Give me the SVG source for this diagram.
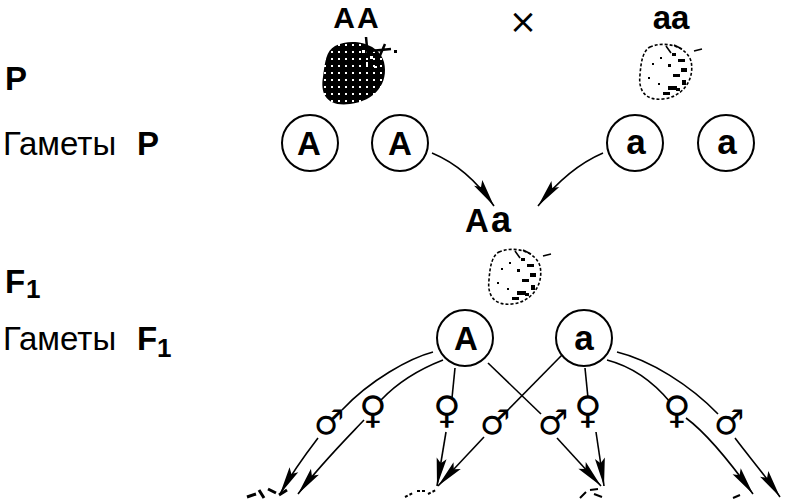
<svg xmlns="http://www.w3.org/2000/svg" width="800" height="500" viewBox="0 0 800 500">
<style>
.lbl{font-family:"Liberation Sans",Arial,sans-serif;font-size:33px;fill:#000}
.b{font-weight:bold}
.sub{font-family:"Liberation Sans",Arial,sans-serif;font-size:26px;font-weight:bold}
.fem{font-family:"DejaVu Sans",sans-serif;font-size:38px;fill:#000;text-anchor:middle}
.mal{font-family:"DejaVu Sans",sans-serif;font-size:34px;fill:#000;text-anchor:middle}
.gam{fill:#fff;stroke:#000;stroke-width:2}
.gt{font-family:"Liberation Sans",Arial,sans-serif;font-weight:bold;font-size:33px;text-anchor:middle}
.ln{fill:none;stroke:#000;stroke-width:1.6}
.arr{fill:none;stroke:#000;stroke-width:1.6;marker-end:url(#ah)}
.dash{fill:#fff;stroke:#000;stroke-width:1.6;stroke-dasharray:3 2}
</style>
<defs>
<marker id="ah" viewBox="-30 -6 32 12" refX="0" refY="0" markerWidth="32" markerHeight="12" orient="auto" markerUnits="userSpaceOnUse">
<path d="M0,0 L-28,-5 L-23,0 L-28,5 Z" fill="#000"/>
</marker>
<pattern id="seeds" width="7" height="7" patternUnits="userSpaceOnUse">
<rect width="7" height="7" fill="#000"/>
<rect x="2" y="2" width="2" height="2" fill="#fff"/>
</pattern>
<g id="lightberry">
<path class="dash" d="M12,4 C25,-2 48,2 53,18 C57,36 45,54 25,56 C8,58 0,48 2,32 C3,18 5,8 12,4 Z"/>
<g fill="#000">
<rect x="34" y="10" width="4" height="3"/><rect x="40" y="16" width="7" height="3"/>
<rect x="30" y="21" width="3" height="3"/><rect x="43" y="25" width="6" height="4"/>
<rect x="35" y="31" width="7" height="3"/><rect x="44" y="37" width="4" height="5"/>
<rect x="30" y="43" width="9" height="4"/><rect x="25" y="49" width="7" height="3"/>
<rect x="38" y="45" width="4" height="3"/><rect x="14" y="20" width="2" height="2"/>
<rect x="10" y="34" width="2" height="2"/><rect x="20" y="40" width="2" height="2"/>
<rect x="22" y="14" width="2" height="2"/>
</g>
<path d="M28,3 L33,10 M36,2 L44,6 M56,8 L64,6" class="ln"/>
</g>
</defs>
<rect width="800" height="500" fill="#fff"/>

<g id="labels">
<text class="lbl b" x="5" y="90">P</text>
<text class="lbl" x="3" y="155">Гаметы<tspan class="b" x="137">P</tspan></text>
<text class="lbl b" x="5" y="293">F</text><text class="sub" x="26" y="298">1</text>
<text class="lbl" x="3" y="350">Гаметы<tspan class="b" x="137">F</tspan></text><text class="sub" x="157" y="357">1</text>
</g>

<g id="parentAA">
<text class="gt" x="357" y="28" style="font-size:30px" letter-spacing="2">AA</text>
<path d="M335,46 C352,37 379,43 384,62 C389,83 375,101 350,104 C327,107 320,94 323,77 C325,62 326,51 335,46 Z" fill="url(#seeds)"/>
<g fill="#fff"><rect x="362" y="50" width="3" height="3"/><rect x="370" y="56" width="3" height="3"/><rect x="366" y="62" width="2" height="3"/><rect x="374" y="66" width="3" height="2"/></g>
<path d="M366,37 L368,58 M370,51 L391,49 M385,44 L378,60" stroke="#000" stroke-width="2.5" fill="none"/>
<rect x="394" y="50" width="3" height="3"/>
</g>
<text id="cross" x="523" y="33" font-family="DejaVu Sans,sans-serif" font-size="34" text-anchor="middle">×</text>
<g id="parentaa">
<text class="gt" x="671" y="29">aa</text>
<use href="#lightberry" x="638" y="43"/>
</g>

<g id="gameteP1"><circle class="gam" cx="310" cy="143" r="28"/><text class="gt" x="309" y="155">A</text></g>
<g id="gameteP2"><circle class="gam" cx="400" cy="143" r="28"/><text class="gt" x="400" y="155">A</text></g>
<g id="gameteP3"><circle class="gam" cx="635" cy="143" r="28"/><text class="gt" x="636" y="154" style="font-size:35px">a</text></g>
<g id="gameteP4"><circle class="gam" cx="726" cy="143" r="28"/><text class="gt" x="727" y="154" style="font-size:35px">a</text></g>

<g id="F1">
<text class="gt" x="489" y="232" text-anchor="start" letter-spacing="2">A<tspan style="font-size:36px">a</tspan></text>
<use href="#lightberry" x="487" y="248"/>
</g>

<g id="gameteF1A"><circle class="gam" cx="465" cy="338" r="28"/><text class="gt" x="466" y="350">A</text></g>
<g id="gameteF1a"><circle class="gam" cx="584" cy="338" r="28"/><text class="gt" x="584" y="350" style="font-size:35px">a</text></g>

<g id="connectors">
<path class="arr" d="M432,153 Q468,168 494,206"/>
<path class="arr" d="M603,153 Q568,168 538,206"/>
<path class="ln" d="M433,352 C410,358 370,380 342,410"/>
<path class="arr" d="M318,438 C305,455 292,473 280,494"/>
<path class="ln" d="M443,360 C425,367 400,380 381,400"/>
<path class="arr" d="M364,420 C345,440 320,465 298,494"/>
<path class="ln" d="M455,368 L452,398"/>
<path class="arr" d="M446,432 L437,486"/>
<path class="ln" d="M488,363 L541,414"/>
<path class="arr" d="M557,438 L601,486"/>
<path class="ln" d="M562,355 L507,411"/>
<path class="arr" d="M484,437 L438,486"/>
<path class="ln" d="M585,368 L588,398"/>
<path class="arr" d="M596,432 L604,486"/>
<path class="ln" d="M607,360 C630,366 650,378 670,402"/>
<path class="arr" d="M686,418 C705,432 725,455 753,494"/>
<path class="ln" d="M617,352 C650,360 690,385 718,414"/>
<path class="arr" d="M735,438 C750,458 765,475 780,497"/>
</g>

<g id="sex-symbols">
<text class="mal" x="329" y="434">♂</text>
<text class="fem" x="373" y="423">♀</text>
<text class="fem" x="447" y="423">♀</text>
<text class="mal" x="495" y="434">♂</text>
<text class="mal" x="553" y="434">♂</text>
<text class="fem" x="588" y="423">♀</text>
<text class="fem" x="677" y="423">♀</text>
<text class="mal" x="729" y="434">♂</text>
</g>

<g id="F2-tops">
<path d="M247,497 L256,494 M259,490 L264,498 M268,489 L276,493 M279,495 L287,490" stroke="#000" stroke-width="3" fill="none"/>
<path d="M405,497 L413,493 M417,491 L425,491 M428,494 L436,490" stroke="#000" stroke-width="2" stroke-dasharray="3 2" fill="none"/>
<path d="M580,498 L586,492 M590,490 L598,489 M594,494 L602,497" stroke="#000" stroke-width="2" fill="none"/>
<path d="M733,498 L740,495" stroke="#000" stroke-width="2" fill="none"/>
</g>
</svg>
